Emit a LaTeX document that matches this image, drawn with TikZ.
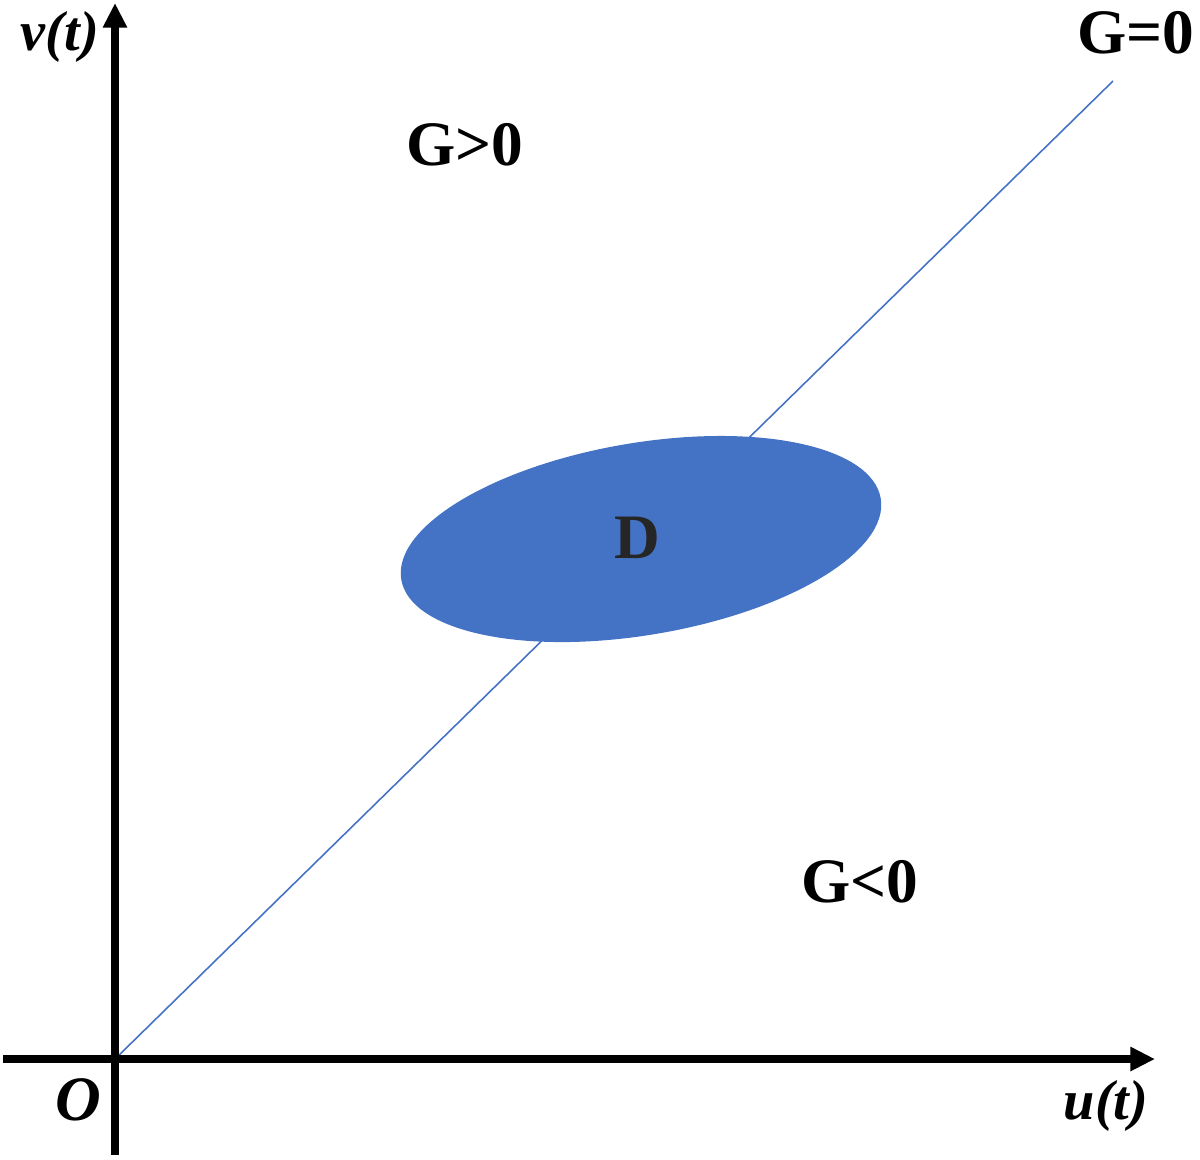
\documentclass[tikz,border=0pt]{standalone}
\usepackage{fontspec}
\setmainfont{Liberation Serif}
\usetikzlibrary{arrows.meta}
\definecolor{dblue}{HTML}{4472C4}
\begin{document}
\begin{tikzpicture}[x=0.01cm,y=-0.01cm,
  axis/.style={line width=2.1pt, -{Triangle[length=7pt,width=6.5pt]}},
  lbl/.style={font=\fontsize{18}{20}\selectfont\bfseries, inner sep=0pt},
  ilbl/.style={font=\fontsize{16}{18}\selectfont\bfseries\itshape, inner sep=0pt},
  gline/.style={draw=dblue, line width=0.45pt}]
\useasboundingbox (0,0) rectangle (1200,1159);
\coordinate (O) at (115,1059);
\coordinate (gend) at (1113,81);
\coordinate (ybot) at (115,1155);
\coordinate (ytop) at (115,3);
\coordinate (xleft) at (3,1059);
\coordinate (xright) at (1155,1059);
\draw[gline] (O) -- (gend);
\fill[dblue, rotate around={9.6:(641,539)}] (641,539) ellipse [x radius=2.43cm, y radius=0.96cm];
\draw[axis] (ybot) -- (ytop);
\draw[axis] (xleft) -- (xright);
\node[ilbl] (vt) at (60,37) {v(t)};
\node[lbl] (g0) at (1136,33) {G=0};
\node[lbl] (gp) at (465,145) {G>0};
\node[lbl, text=black!85] (D) at (637,538) {D};
\node[lbl] (gn) at (860,882) {G<0};
\node[ilbl, font=\fontsize{18}{20}\selectfont\bfseries\itshape] (o) at (78,1100) {O};
\node[ilbl] (ut) at (1106,1106) {u(t)};
\end{tikzpicture}
\end{document}
